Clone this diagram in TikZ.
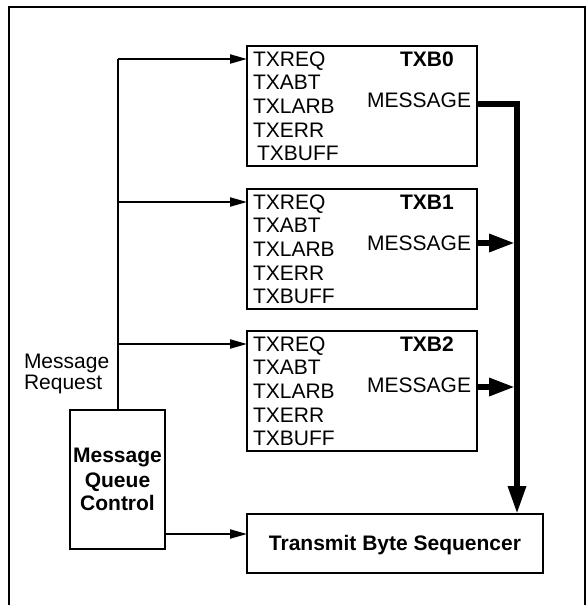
\documentclass[tikz,border=0pt]{standalone}
\usepackage{fontspec}
\setmainfont{Liberation Sans}
\usetikzlibrary{arrows.meta}
\begin{document}
\begin{tikzpicture}[x=1pt,y=-1pt,
  every node/.style={inner sep=0pt, outer sep=0pt, font=\fontsize{21}{24}\selectfont},
  txbox/.style={draw, line width=2.2pt, anchor=north west, minimum width=230pt, minimum height=120pt},
  plainbox/.style={draw, line width=2.2pt},
  lbl/.style={anchor=base west},
  ttl/.style={anchor=base west, font=\fontsize{21}{24}\selectfont\bfseries},
  msg/.style={anchor=base east},
  boldtxt/.style={anchor=base, font=\fontsize{21}{24}\selectfont\bfseries},
  wire/.style={line width=2pt},
  arr/.style={line width=2pt, -{Triangle[length=17pt,width=9pt]}},
  fat/.style={line width=6pt, -{Triangle[length=26pt,width=17pt]}},
  busline/.style={line width=6pt, -{Triangle[length=28pt,width=17pt]}},
]
\useasboundingbox (0,0) rectangle (587,605);
% outer frame
\draw[line width=2.2pt] (9,605) -- (9,7) -- (585,7) -- (585,605);

% transmit buffers
\foreach \i/\t/\ind in {0/46/4,1/189/0,2/331/0} {
  \node[txbox] (b\i) at (247,\t) {};
  \node[lbl] (req\i) at (253,\t+20) {TXREQ};
  \node[lbl] (abt\i) at (253,\t+43.5) {TXABT};
  \node[lbl] (larb\i) at (253,\t+67) {TXLARB};
  \node[lbl] (err\i) at (253,\t+91) {TXERR};
  \node[lbl] (buff\i) at (253+\ind,\t+114) {TXBUFF};
  \node[ttl] (name\i) at (400,\t+20) {TXB\i};
  \node[msg] (msg\i) at (471,\t+61) {MESSAGE};
}

% message queue control
\node[plainbox, minimum width=95pt, minimum height=139pt] (mqc) at (117.5,479.5) {};
\node[boldtxt] (mqc1) at (117.5,462) {Message};
\node[boldtxt] (mqc2) at (117.5,487) {Queue};
\node[boldtxt] (mqc3) at (117.5,510) {Control};

% message request label
\node[lbl] (mr1) at (24,368) {Message};
\node[lbl] (mr2) at (24,389) {Request};

% transmit byte sequencer
\node[plainbox, minimum width=296pt, minimum height=59pt] (tb) at (395,543.5) {};
\node[boldtxt] (tbt) at (395,550) {Transmit Byte Sequencer};

% request lines
\coordinate (r0) at (mqc.north |- 0,59);
\coordinate (r1) at (mqc.north |- 0,202);
\coordinate (r2) at (mqc.north |- 0,344);
\draw[wire] (mqc.north) -- (r0);
\draw[arr] (r0) -- (r0 -| b0.west);
\draw[arr] (r1) -- (r1 -| b1.west);
\draw[arr] (r2) -- (r2 -| b2.west);

% MQC to sequencer
\coordinate (q) at (mqc.east |- 0,534);
\draw[arr] (q) -- (q -| tb.west);

% message bus
\coordinate (bus) at (517,104);
\draw[busline] (b0.east |- bus) -- (bus) -- (bus |- tb.north);
\coordinate (m1) at (b1.east |- 0,243);
\coordinate (m2) at (b2.east |- 0,387);
\draw[fat] (m1) -- (515,243);
\draw[fat] (m2) -- (515,387);
\end{tikzpicture}
\end{document}
